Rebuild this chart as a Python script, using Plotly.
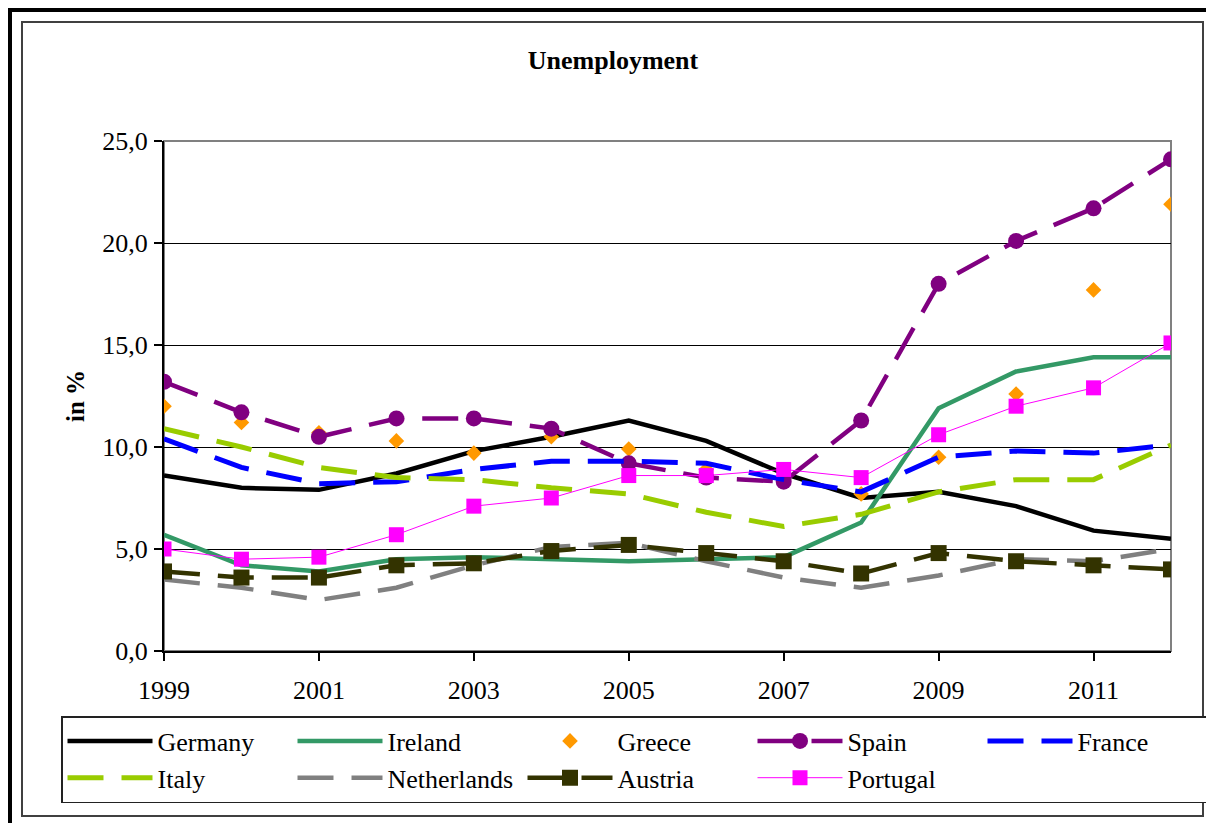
import plotly.graph_objects as go

years = list(range(1999, 2013))

germany = [8.6, 8.0, 7.9, 8.7, 9.8, 10.5, 11.3, 10.3, 8.7, 7.5, 7.8, 7.1, 5.9, 5.5]
ireland = [5.7, 4.2, 3.9, 4.5, 4.6, 4.5, 4.4, 4.5, 4.6, 6.3, 11.9, 13.7, 14.4, 14.4]
greece = [12.0, 11.2, 10.7, 10.3, 9.7, 10.5, 9.9, 8.9, 8.4, 7.7, 9.5, 12.6, 17.7, 21.9]
spain = [13.2, 11.7, 10.5, 11.4, 11.4, 10.9, 9.2, 8.5, 8.3, 11.3, 18.0, 20.1, 21.7, 24.1]
france = [10.4, 9.0, 8.2, 8.3, 8.9, 9.3, 9.3, 9.2, 8.4, 7.8, 9.5, 9.8, 9.7, 10.1]
italy = [10.9, 10.0, 9.0, 8.5, 8.4, 8.0, 7.7, 6.8, 6.1, 6.7, 7.8, 8.4, 8.4, 10.1]
netherlands = [3.5, 3.1, 2.5, 3.1, 4.2, 5.1, 5.3, 4.4, 3.6, 3.1, 3.7, 4.5, 4.4, 5.0]
austria = [3.9, 3.6, 3.6, 4.2, 4.3, 4.9, 5.2, 4.8, 4.4, 3.8, 4.8, 4.4, 4.2, 4.0]
portugal = [5.0, 4.5, 4.6, 5.7, 7.1, 7.5, 8.6, 8.6, 8.9, 8.5, 10.6, 12.0, 12.9, 15.1]

x_ticks = [1999, 2001, 2003, 2005, 2007, 2009, 2011]
y_ticks = [0, 5, 10, 15, 20, 25]

FONT = "Liberation Serif"
OFF = 8  # page body margin
W, H = 1214 - OFF, 823 - OFF
# plot area edges in page pixels
L, R, T, B = 164, 1171, 141, 651

DASH = "36px,18px"

fig = go.Figure()

fig.add_trace(go.Scatter(x=years, y=germany, name="Germany", mode="lines",
                         line=dict(color="#000000", width=4.5)))
fig.add_trace(go.Scatter(x=years, y=ireland, name="Ireland", mode="lines",
                         line=dict(color="#339966", width=4.5)))
fig.add_trace(go.Scatter(x=years, y=greece, name="Greece", mode="markers",
                         marker=dict(color="#FF9900", symbol="diamond", size=12)))
fig.add_trace(go.Scatter(x=years, y=spain, name="Spain", mode="lines+markers",
                         line=dict(color="#800080", width=4.5, dash=DASH),
                         marker=dict(color="#800080", symbol="circle", size=16)))
fig.add_trace(go.Scatter(x=years, y=france, name="France", mode="lines",
                         line=dict(color="#0000FF", width=5, dash=DASH)))
fig.add_trace(go.Scatter(x=years, y=italy, name="Italy", mode="lines",
                         line=dict(color="#99CC00", width=5, dash=DASH)))
fig.add_trace(go.Scatter(x=years, y=netherlands, name="Netherlands", mode="lines",
                         line=dict(color="#808080", width=4.5, dash=DASH)))
fig.add_trace(go.Scatter(x=years, y=austria, name="Austria", mode="lines+markers",
                         line=dict(color="#333300", width=4.5, dash=DASH),
                         marker=dict(color="#333300", symbol="square", size=16)))
fig.add_trace(go.Scatter(x=years, y=portugal, name="Portugal", mode="lines+markers",
                         line=dict(color="#FF00FF", width=1),
                         marker=dict(color="#FF00FF", symbol="square", size=15)))


def px_x(p):
    return (p - L) / (R - L)


def px_y(p):
    return (B - p) / (B - T)


shapes = [
    dict(type="rect", xref="paper", yref="paper", x0=0, x1=1, y0=0, y1=1,
         line=dict(color="#808080", width=2), layer="below"),
    dict(type="rect", xref="paper", yref="paper", x0=px_x(22), x1=px_x(1203),
         y0=px_y(22), y1=px_y(816), line=dict(color="#404040", width=2)),
    dict(type="line", xref="paper", yref="paper", x0=px_x(8), x1=px_x(1214),
         y0=px_y(10), y1=px_y(10), line=dict(color="#000000", width=4)),
    dict(type="line", xref="paper", yref="paper", x0=px_x(10), x1=px_x(10),
         y0=px_y(8), y1=px_y(823), line=dict(color="#000000", width=4)),
]

fig.update_layout(
    width=W, height=H,
    margin=dict(l=L - OFF, r=W - (R - OFF), t=T - OFF, b=H - (B - OFF), autoexpand=False),
    paper_bgcolor="white", plot_bgcolor="white",
    separators=",.",
    font=dict(family=FONT, color="black", size=26),
    title=dict(text="<b>Unemployment</b>", font=dict(family=FONT, size=26, color="black"),
               x=(613 - OFF) / W, xref="container", xanchor="center",
               y=1 - (60 - OFF) / H, yref="container", yanchor="middle"),
    xaxis=dict(range=[1999, 2012], tickvals=x_ticks, ticktext=[str(v) for v in x_ticks],
               showgrid=False, zeroline=False, showline=True, linecolor="black", linewidth=2,
               ticks="outside", ticklen=8, tickwidth=1.5, tickcolor="black",
               ticklabelstandoff=7,
               tickfont=dict(family=FONT, size=26, color="black")),
    yaxis=dict(range=[0, 25], tickvals=y_ticks, tickformat=".1f",
               showgrid=True, gridcolor="black", gridwidth=1, zeroline=False,
               showline=True, linecolor="black", linewidth=2,
               ticks="outside", ticklen=8, tickwidth=1.5, tickcolor="black",
               ticklabelstandoff=1,
               tickfont=dict(family=FONT, size=26, color="black")),
    showlegend=True,
    legend=dict(orientation="h", xref="paper", yref="paper",
                x=px_x(61), y=px_y(716), xanchor="left", yanchor="top",
                bordercolor="#222222", borderwidth=1.5, bgcolor="white",
                font=dict(family=FONT, size=26, color="black"),
                itemwidth=85, entrywidth=130, entrywidthmode="pixels",
                traceorder="normal"),
    shapes=shapes,
    annotations=[dict(text="<b>in %</b>", xref="paper", yref="paper",
                      x=px_x(75), y=0.5, xanchor="center", yanchor="middle",
                      textangle=-90, showarrow=False,
                      font=dict(family=FONT, size=25, color="black"))],
)

fig.write_html("out.html")
